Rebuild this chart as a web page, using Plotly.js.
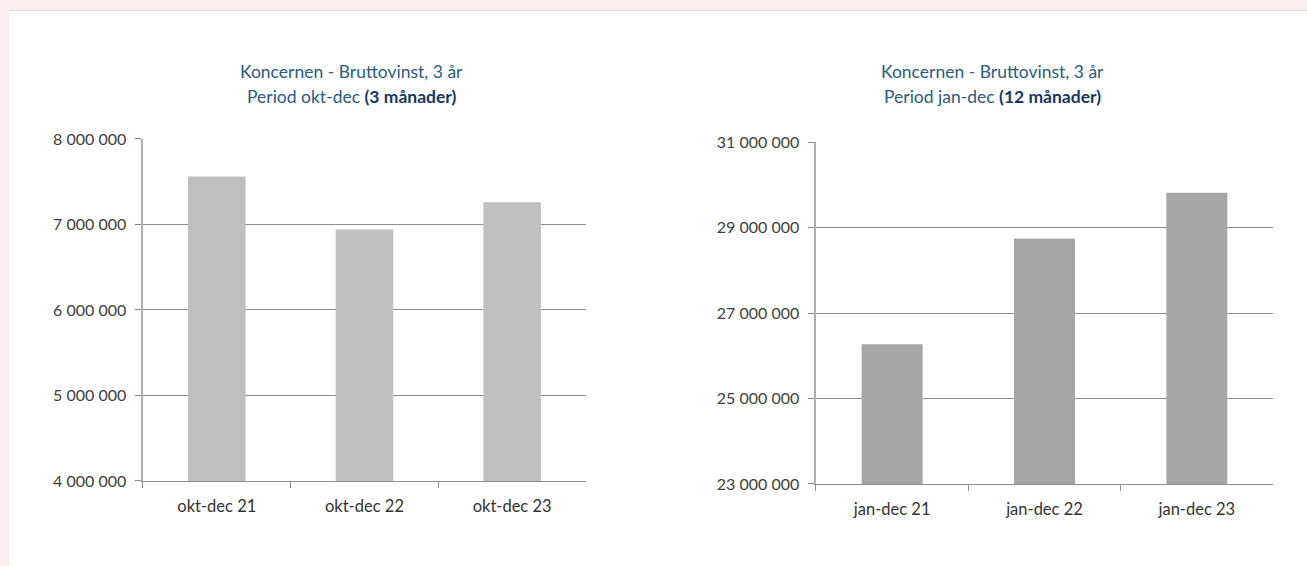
<!DOCTYPE html>
<html>
<head>
<meta charset="utf-8">
<script src="https://cdn.plot.ly/plotly-3.0.1.min.js"></script>
<style>
  html, body { margin: 0; padding: 0; background: #fbeeed; }
  #chart {
    position: absolute; left: 9px; top: 11px;
    width: 1298px; height: 555px; background: #ffffff;
    box-shadow: 0 -1px 1px #dcdcdc;
  }
</style>
</head>
<body>
<div id="chart"></div>
<script>
// kvartal (okt-dec)
var quarterLabels = ["okt-dec 21", "okt-dec 22", "okt-dec 23"];
var quarterProfit = [7560000, 6940000, 7260000];

// helår (jan-dec)
var yearLabels = ["jan-dec 21", "jan-dec 22", "jan-dec 23"];
var yearProfit = [26270000, 28750000, 29820000];

var yTickFont = { family: "Lato, sans-serif", size: 16, color: "#404040" };
var xTickFont = { family: "Lato, sans-serif", size: 16.5, color: "#333333" };
var titleBlue = "#2b5b7e";

var quarterTrace = {
  x: quarterLabels,
  y: quarterProfit,
  type: "bar",
  width: 0.39,
  marker: { color: "#bfbfbf" },
  xaxis: "x",
  yaxis: "y",
  hoverinfo: "x+y"
};

var yearTrace = {
  x: yearLabels,
  y: yearProfit,
  type: "bar",
  width: 0.4,
  marker: { color: "#a6a6a6" },
  xaxis: "x2",
  yaxis: "y2",
  hoverinfo: "x+y"
};

function xAxis(domain, anchor) {
  return {
    domain: domain,
    anchor: anchor,
    type: "category",
    showline: true,
    linecolor: "#8c8c8c",
    linewidth: 1.5,
    ticks: "outside",
    tickson: "boundaries",
    ticklen: 6,
    tickcolor: "#8c8c8c",
    showgrid: false,
    tickfont: xTickFont,
    ticklabelstandoff: 10,
    fixedrange: true
  };
}

function yAxis(domain, anchor, range, dtick) {
  return {
    domain: domain,
    anchor: anchor,
    range: range,
    tick0: range[0],
    dtick: dtick,
    tickformat: ",d",
    showline: true,
    linecolor: "#b0b0b0",
    linewidth: 1.5,
    ticks: "outside",
    ticklen: 6,
    tickcolor: "#8c8c8c",
    gridcolor: "#8c8c8c",
    gridwidth: 1,
    zeroline: false,
    tickfont: yTickFont,
    ticklabelstandoff: 6,
    fixedrange: true
  };
}

function titleLines(x, line1, line2) {
  return [
    { text: line1, x: x, y: 0.8906, xref: "paper", yref: "paper",
      showarrow: false, xanchor: "center", yanchor: "middle",
      font: { family: "Lato, sans-serif", size: 17.5, color: titleBlue } },
    { text: line2, x: x, y: 0.8456, xref: "paper", yref: "paper",
      showarrow: false, xanchor: "center", yanchor: "middle",
      font: { family: "Lato, sans-serif", size: 17.5, color: titleBlue } }
  ];
}

var layout = {
  width: 1298,
  height: 555,
  margin: { l: 0, r: 0, t: 0, b: 0 },
  paper_bgcolor: "#ffffff",
  plot_bgcolor: "#ffffff",
  showlegend: false,
  separators: ". ",
  xaxis: xAxis([0.1032, 0.4445], "y"),
  yaxis: yAxis([0.1532, 0.7694], "x", [4000000, 8000000], 1000000),
  xaxis2: xAxis([0.6217, 0.9738], "y2"),
  yaxis2: yAxis([0.1478, 0.7634], "x2", [23000000, 31000000], 2000000),
  annotations: titleLines(0.2639, "Koncernen - Bruttovinst, 3 år",
      "Period okt-dec <b style='color:#17375e'>(3 månader)</b>")
    .concat(titleLines(0.7575, "Koncernen - Bruttovinst, 3 år",
      "Period jan-dec <b style='color:#17375e'>(12 månader)</b>"))
};

Plotly.newPlot("chart", [quarterTrace, yearTrace], layout, { displayModeBar: false, staticPlot: true });
</script>
</body>
</html>
